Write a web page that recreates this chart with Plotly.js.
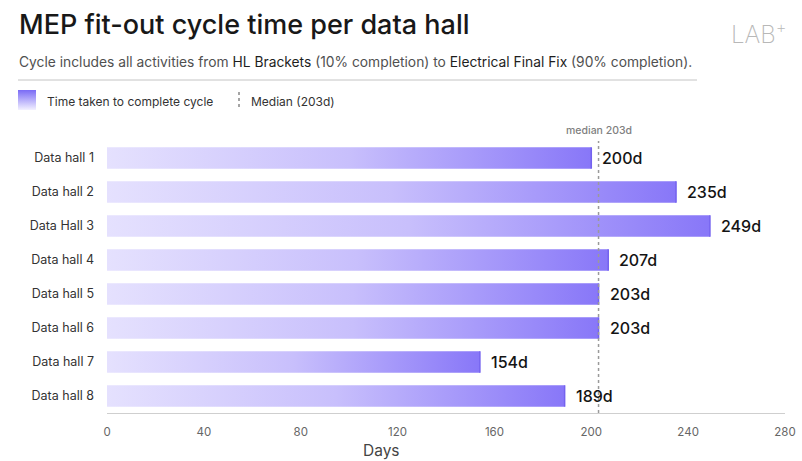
<!DOCTYPE html>
<html>
<head>
<meta charset="utf-8">
<script src="https://cdn.plot.ly/plotly-3.0.1.min.js"></script>
<style>
  html, body { margin: 0; padding: 0; background: #fff; }
  #chart { width: 802px; height: 461px; }
</style>
</head>
<body>
<div id="chart"></div>
<script>
// Cycle durations per data hall (days)
const halls = ["Data hall 1", "Data hall 2", "Data Hall 3", "Data hall 4",
               "Data hall 5", "Data hall 6", "Data hall 7", "Data hall 8"];
const days = [200, 235, 249, 207, 203, 203, 154, 189];
const median = 203;
const xTicks = [0, 40, 80, 120, 160, 200, 240, 280];

const FONT = "Inter, 'Noto Sans', sans-serif";
const W = 802, H = 461;
const M = { l: 107, r: 17, t: 141, b: 48 };
const plotW = W - M.l - M.r, plotH = H - M.t - M.b;
// pixel position -> paper coordinates
const px = x => (x - M.l) / plotW;
const py = y => (H - M.b - y) / plotH;

const half = 0.315;
const traces = [];
days.forEach((v, i) => {
  // gradient-filled bar body
  traces.push({
    type: "scatter", mode: "lines", hoverinfo: "skip", showlegend: false,
    x: [0, v, v, 0, 0], y: [i - half, i - half, i + half, i + half, i - half],
    fill: "toself", line: { width: 0, color: "rgba(0,0,0,0)" },
    fillgradient: { type: "horizontal",
      colorscale: [[0, "#e5e1fe"], [0.5, "#c8bffc"], [1, "#8877f8"]] }
  });
  // darker cap at the bar end
  traces.push({
    type: "scatter", mode: "lines", hoverinfo: "skip", showlegend: false,
    x: [v, v], y: [i - half, i + half],
    line: { width: 1.5, color: "#7462ef" }
  });
});

const annotations = [];
days.forEach((v, i) => {
  annotations.push({ x: v, y: i, xref: "x", yref: "y", text: v + "d",
    showarrow: false, xanchor: "left", xshift: 9,
    font: { family: FONT, size: 16, color: "#141414", weight: 500 } });
});
annotations.push(
  { x: median, y: py(131), xref: "x", yref: "paper", text: "median 203d",
    showarrow: false, xanchor: "center", yanchor: "middle",
    font: { family: FONT, size: 10.5, color: "#808080", weight: 500 } },
  { x: px(17), y: py(25), xref: "paper", yref: "paper",
    text: "MEP fit-out cycle time per data hall", showarrow: false,
    xanchor: "left", yanchor: "middle",
    font: { family: FONT, size: 27, color: "#181818", weight: 500 } },
  { x: px(17), y: py(62), xref: "paper", yref: "paper",
    text: "Cycle includes all activities from <span style='color:#1e1e1e'>HL Brackets</span> (10% completion) to <span style='color:#1e1e1e'>Electrical Final Fix</span> (90% completion).",
    showarrow: false, xanchor: "left", yanchor: "middle",
    font: { family: FONT, size: 13.8, color: "#505050" } },
  { x: px(45), y: py(101), xref: "paper", yref: "paper",
    text: "Time taken to complete cycle", showarrow: false,
    xanchor: "left", yanchor: "middle",
    font: { family: FONT, size: 12, color: "#333" } },
  { x: px(249), y: py(101), xref: "paper", yref: "paper",
    text: "Median (203d)", showarrow: false,
    xanchor: "left", yanchor: "middle",
    font: { family: FONT, size: 12, color: "#333" } },
  { x: px(381), y: py(450), xref: "paper", yref: "paper",
    text: "Days", showarrow: false, xanchor: "center", yanchor: "middle",
    font: { family: FONT, size: 15.5, color: "#444" } },
  { x: px(729), y: py(33), xref: "paper", yref: "paper",
    text: "LAB<sup>+</sup>", showarrow: false, xanchor: "left", yanchor: "middle",
    font: { family: FONT, size: 24, color: "#b8b8b8", weight: 200 } }
);

const shapes = [
  // median reference line
  { type: "line", xref: "x", yref: "paper", x0: median, x1: median, y0: 0, y1: 1,
    line: { color: "#9a9a9a", width: 1.5, dash: "dot" } },
  // rule under the subtitle
  { type: "line", xref: "paper", yref: "paper", x0: px(18), x1: px(697),
    y0: py(80), y1: py(80), line: { color: "#c4c4c4", width: 1 } },
  // legend marker for the median
  { type: "line", xref: "paper", yref: "paper", x0: px(239), x1: px(239),
    y0: py(92), y1: py(110), line: { color: "#888", width: 1.5, dash: "dot" } }
];

// legend swatch with a vertical gradient
const swatchSvg = "<svg xmlns='http://www.w3.org/2000/svg' width='18' height='20'>" +
  "<defs><linearGradient id='g' x1='0' y1='0' x2='0' y2='1'>" +
  "<stop offset='0' stop-color='#7a6bf5'/><stop offset='1' stop-color='#f3f1ff'/>" +
  "</linearGradient></defs><rect width='18' height='20' fill='url(#g)'/></svg>";
const images = [{
  source: "data:image/svg+xml;utf8," + encodeURIComponent(swatchSvg),
  xref: "paper", yref: "paper", x: px(18), y: py(90),
  sizex: 18 / plotW, sizey: 20 / plotH, sizing: "stretch",
  xanchor: "left", yanchor: "top", layer: "above"
}];

const layout = {
  width: W, height: H,
  margin: M,
  paper_bgcolor: "#fff", plot_bgcolor: "#fff",
  showlegend: false,
  xaxis: {
    range: [0, 280], tickvals: xTicks, ticktext: xTicks.map(String),
    showgrid: false, zeroline: false, showline: true, linecolor: "#cfcfcf",
    linewidth: 1, ticks: "", ticklabelstandoff: 8,
    tickfont: { family: FONT, size: 11.5, color: "#666" }, fixedrange: true
  },
  yaxis: {
    range: [7.5, -0.5], tickvals: halls.map((_, i) => i), ticktext: halls,
    showgrid: false, zeroline: false, showline: false, ticks: "",
    ticklabelstandoff: 12,
    tickfont: { family: FONT, size: 12.5, color: "#333" }, fixedrange: true
  },
  annotations, shapes, images
};

Plotly.newPlot("chart", traces, layout, { displayModeBar: false, staticPlot: true });
</script>
</body>
</html>
